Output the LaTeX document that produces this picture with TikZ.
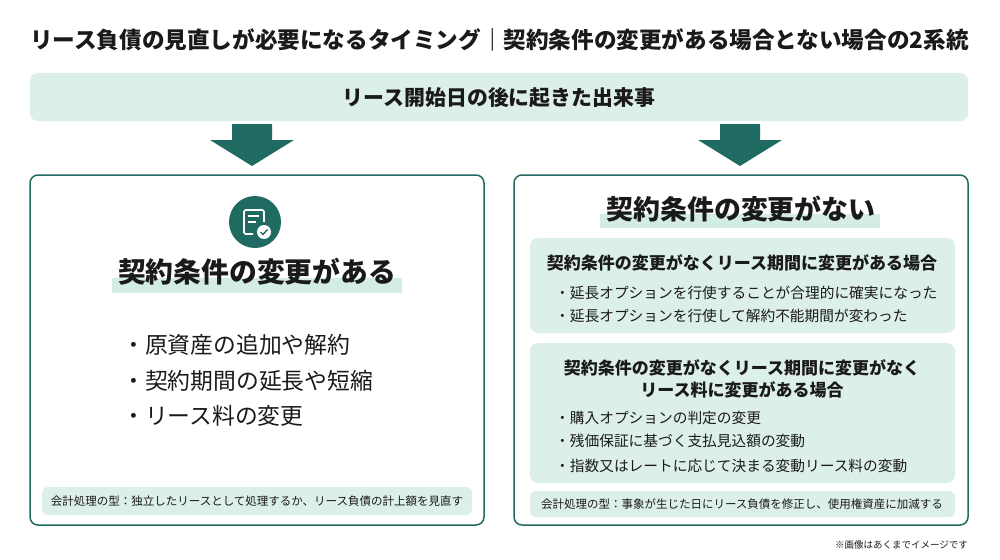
\documentclass[tikz,border=0pt]{standalone}
\usepackage{fontspec}
\setmainfont{Noto Sans CJK JP}
\definecolor{teal}{HTML}{1F6B62}
\definecolor{mint}{HTML}{DDEFEA}
\definecolor{band}{HTML}{D3ECE5}
\definecolor{ink}{HTML}{1A1A1A}
\begin{document}
\begin{tikzpicture}[x=1pt,y=-1pt,
  panel/.style={draw=teal,line width=1.5pt,rounded corners=8pt,fill=white},
  soft/.style={fill=mint,rounded corners=8pt},
  dn/.style={fill=teal},
  txt/.style={text=ink,inner sep=0pt},
  bul/.style={txt,anchor=west,font=\fontsize{14.7}{17}\selectfont}]
\useasboundingbox (0,0) rectangle (1000,559);
\fill[white] (0,0) rectangle (1000,559);
\node[txt,anchor=west,font=\bfseries\fontsize{22.6}{24}\selectfont] (title) at (30,40) {リース負債の見直しが必要になるタイミング｜契約条件の変更がある場合とない場合の2系統};
\fill[soft] (30,73) rectangle (968,121);
\node[txt,font=\bfseries\fontsize{20.9}{22}\selectfont] (top) at (499,98) {リース開始日の後に起きた出来事};
\foreach \cx in {252,740}{
 \fill[dn] (\cx-20,124) -- (\cx+20,124) -- (\cx+20,140) -- (\cx+42,140) -- (\cx,166) -- (\cx-42,140) -- (\cx-20,140) -- cycle;}
% left panel
\draw[panel] (30,175) rectangle (484,525);
\fill[teal] (255,222) circle (26);
\draw[white,line width=1.6pt,rounded corners=1.5pt] (253,234) -- (244,234) -- (244,210) -- (264,210) -- (264,222);
\draw[white,line width=1.4pt] (248,216) -- (259,216) (248,222) -- (256,222);
\fill[white] (264,232) circle (7);
\draw[teal,line width=1.4pt] (260.5,232) -- (263,234.5) -- (267.5,229.5);
\fill[band] (112,278) rectangle (402,293);
\node[txt,font=\bfseries\fontsize{27.8}{30}\selectfont] (lh) at (257,272) {契約条件の変更がある};
\node[txt,anchor=west,font=\fontsize{22.8}{25}\selectfont] (l1) at (122,345) {・原資産の追加や解約};
\node[txt,anchor=west,font=\fontsize{22.8}{25}\selectfont] (l2) at (122,381) {・契約期間の延長や短縮};
\node[txt,anchor=west,font=\fontsize{22.8}{25}\selectfont] (l3) at (122,416) {・リース料の変更};
\fill[soft,rounded corners=6pt] (42,487) rectangle (472,515);
\node[txt,font=\fontsize{11.5}{13}\selectfont] (lf) at (257,501) {会計処理の型：独立したリースとして処理するか、リース負債の計上額を見直す};
% right panel
\draw[panel] (514,175) rectangle (968,525);
\fill[band] (600,214) rectangle (880,228);
\node[txt,font=\bfseries\fontsize{26.9}{29}\selectfont] (rh) at (741,209) {契約条件の変更がない};
\fill[soft] (530,238) rectangle (955,333);
\node[txt,font=\bfseries\fontsize{17}{19}\selectfont] (s1) at (742,263) {契約条件の変更がなくリース期間に変更がある場合};
\node[bul] (b1) at (555,293) {・延長オプションを行使することが合理的に確実になった};
\node[bul] (b2) at (555,316) {・延長オプションを行使して解約不能期間が変わった};
\fill[soft] (530,343) rectangle (955,483);
\node[txt,font=\bfseries\fontsize{17}{19}\selectfont,align=center] (s2) at (742,379) {契約条件の変更がなくリース期間に変更がなく\\[3pt]リース料に変更がある場合};
\node[bul] (b3) at (555,418) {・購入オプションの判定の変更};
\node[bul] (b4) at (555,441) {・残価保証に基づく支払見込額の変動};
\node[bul] (b5) at (555,466) {・指数又はレートに応じて決まる変動リース料の変動};
\fill[soft,rounded corners=6pt] (530,491) rectangle (955,517);
\node[txt,font=\fontsize{11.5}{13}\selectfont] (rf) at (742,504) {会計処理の型：事象が生じた日にリース負債を修正し、使用権資産に加減する};
\node[txt,anchor=east,font=\fontsize{9.5}{11}\selectfont] (note) at (968,545) {※画像はあくまでイメージです};
\end{tikzpicture}
\end{document}
